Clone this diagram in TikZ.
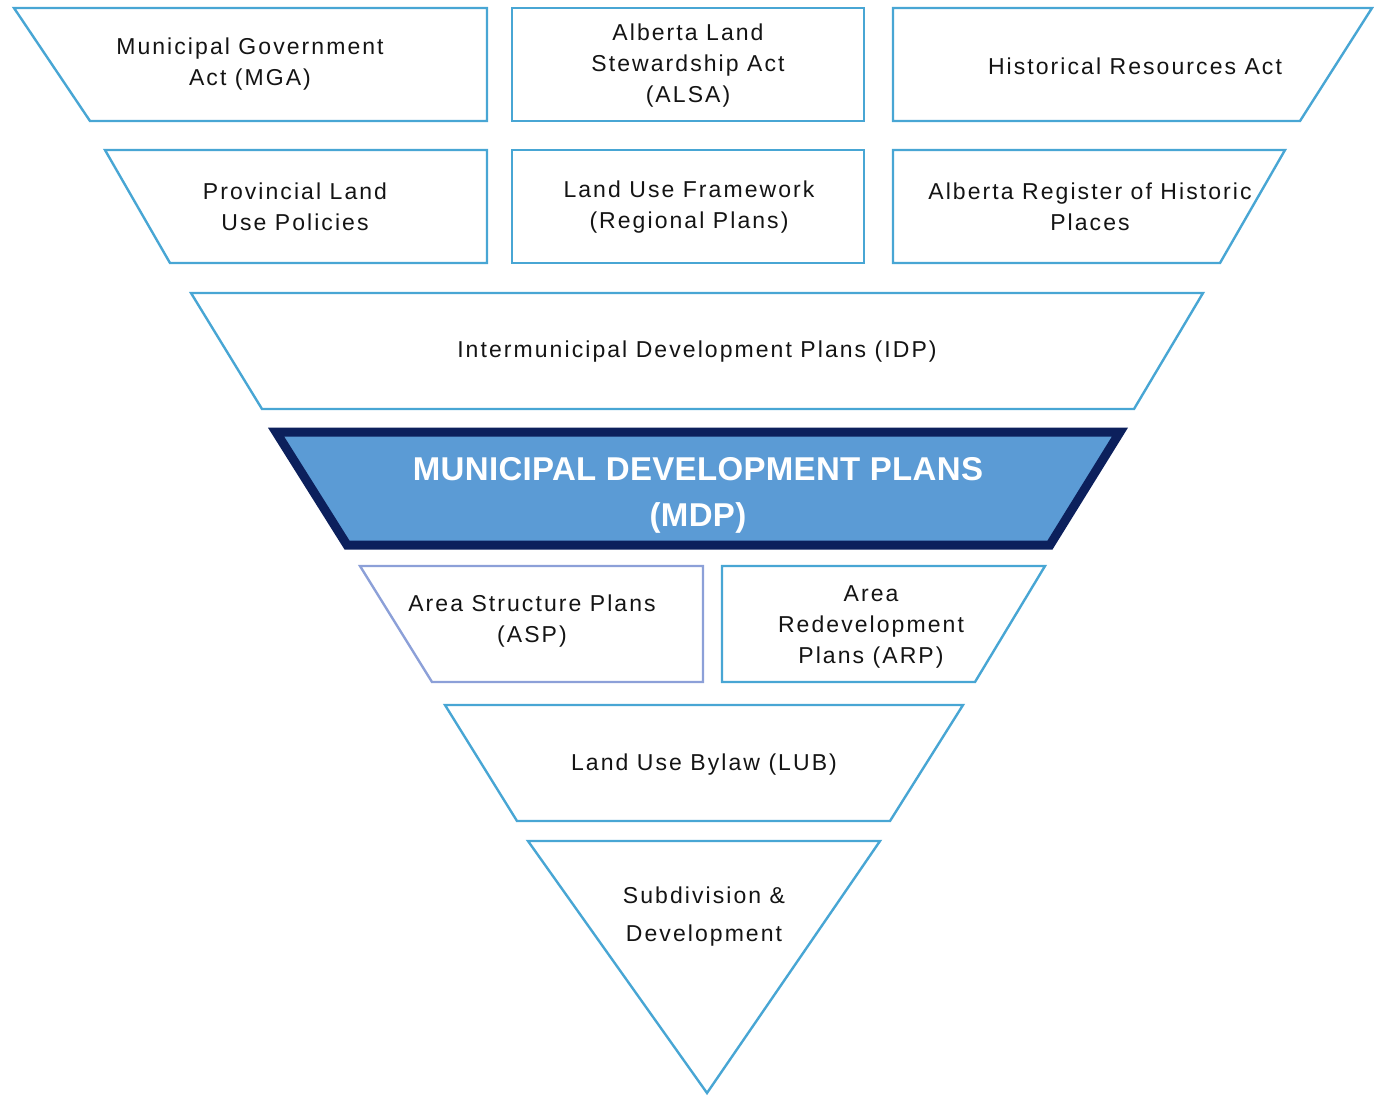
\documentclass[tikz,border=0pt]{standalone}
\usepackage{fontspec}
\setmainfont{Liberation Sans}[LetterSpace=9]
\newfontfamily\headfont{Liberation Sans}[LetterSpace=1]
\definecolor{edgeblue}{RGB}{72,166,212}
\definecolor{edgelav}{RGB}{140,160,216}
\definecolor{mdpfill}{RGB}{91,155,213}
\definecolor{mdpnavy}{RGB}{12,32,92}
\definecolor{inkgray}{RGB}{20,20,20}
\begin{document}
\begin{tikzpicture}[x=1pt,y=-1pt,
  tier/.style={draw=edgeblue,line width=2.4pt,line join=miter,fill=white},
  tierlav/.style={tier,draw=edgelav},
  label/.style={inner sep=0pt,align=center,text=inkgray,
    font=\fontsize{23}{31}\selectfont},
  mdplabel/.style={inner sep=0pt,align=center,text=white,
    font=\headfont\bfseries\fontsize{33}{46}\selectfont}]
\useasboundingbox (0,0) rectangle (1374,1097);

% top row: legislation
\draw[tier] (14,8) -- (487,8) -- (487,121) -- (90,121) -- cycle;
\draw[tier] (512,8) rectangle (864,121);
\draw[tier] (893,8) -- (1372,8) -- (1300,121) -- (893,121) -- cycle;
\node[label] (mga)  at (250,64)  {Municipal Government\\Act (MGA)};
\node[label] (alsa) at (688,66)  {Alberta Land\\Stewardship Act\\(ALSA)};
\node[label] (hra)  at (1135,66) {Historical Resources Act};

% second row: provincial policy
\draw[tier] (105,150) -- (487,150) -- (487,263) -- (170,263) -- cycle;
\draw[tier] (512,150) rectangle (864,263);
\draw[tier] (893,150) -- (1285,150) -- (1220,263) -- (893,263) -- cycle;
\node[label] (plup) at (295,207)  {Provincial Land\\Use Policies};
\node[label] (luf)  at (689,207)  {Land Use Framework\\(Regional Plans)};
\node[label] (arhp) at (1090,207) {Alberta Register of Historic\\Places};

% intermunicipal tier
\draw[tier] (191,293) -- (1203,293) -- (1134,409) -- (262,409) -- cycle;
\node[label] (idp) at (697,352) {Intermunicipal Development Plans (IDP)};

% municipal development plan band
\draw[draw=mdpnavy,fill=mdpfill,line width=9pt,line join=miter]
  (276,432) -- (1120,432) -- (1050,545) -- (347,545) -- cycle;
\node[mdplabel] (mdp) at (698,495) {MUNICIPAL DEVELOPMENT PLANS\\(MDP)};

% statutory plans
\draw[tierlav] (360,566) -- (703,566) -- (703,682) -- (432,682) -- cycle;
\draw[tier] (722,566) -- (1045,566) -- (975,682) -- (722,682) -- cycle;
\node[label] (asp) at (532,621) {Area Structure Plans\\(ASP)};
\node[label] (arp) at (871,627) {Area\\Redevelopment\\Plans (ARP)};

% land use bylaw
\draw[tier] (445,705) -- (963,705) -- (890,821) -- (517,821) -- cycle;
\node[label] (lub) at (704,765) {Land Use Bylaw (LUB)};

% subdivision and development
\draw[tier] (528,841) -- (880,841) -- (707,1093) -- cycle;
\node[label,font=\fontsize{23}{38}\selectfont] (sdv) at (704,917) {Subdivision \&\\Development};
\end{tikzpicture}
\end{document}
